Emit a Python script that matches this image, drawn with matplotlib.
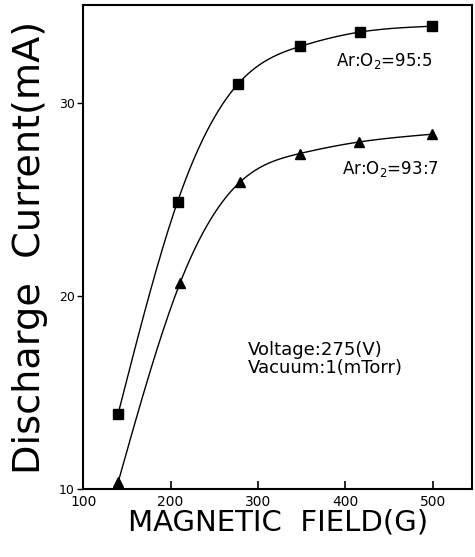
import numpy as np
import matplotlib
matplotlib.use("Agg")
import matplotlib.pyplot as plt

# Data
field_sq = [140, 208, 277, 348, 417, 499]
current_sq = [13.9, 24.9, 31.0, 32.95, 33.7, 34.0]
field_tri = [140, 211, 279, 348, 416, 499]
current_tri = [10.35, 20.7, 25.9, 27.4, 28.0, 28.4]
x_ticks = [100, 200, 300, 400, 500]
y_ticks = [10, 20, 30]
label_sq = "Ar:O$_2$=95:5"
label_tri = "Ar:O$_2$=93:7"
cond_text = "Voltage:275(V)\nVacuum:1(mTorr)"


def smooth(x, y, n=300):
    """Natural cubic spline through the points (for drawing the curve)."""
    x = np.asarray(x, float)
    y = np.asarray(y, float)
    k = len(x)
    h = np.diff(x)
    A = np.zeros((k, k))
    b = np.zeros(k)
    A[0, 0] = A[-1, -1] = 1
    for i in range(1, k - 1):
        A[i, i - 1] = h[i - 1]
        A[i, i] = 2 * (h[i - 1] + h[i])
        A[i, i + 1] = h[i]
        b[i] = 6 * ((y[i + 1] - y[i]) / h[i] - (y[i] - y[i - 1]) / h[i - 1])
    M = np.linalg.solve(A, b)
    xs, ys = [], []
    for i in range(k - 1):
        t = np.linspace(x[i], x[i + 1], n // (k - 1))
        a = x[i + 1] - t
        c = t - x[i]
        s = (M[i] * a**3 + M[i + 1] * c**3) / (6 * h[i]) \
            + (y[i] / h[i] - M[i] * h[i] / 6) * a \
            + (y[i + 1] / h[i] - M[i + 1] * h[i] / 6) * c
        xs.append(t)
        ys.append(s)
    return np.concatenate(xs), np.concatenate(ys)


plt.rcParams['font.family'] = ['DejaVu Sans']
plt.rcParams['mathtext.fontset'] = 'dejavusans'
fig = plt.figure(figsize=(4.75, 5.57), dpi=100)
ax = fig.add_axes([0.175, 0.122, 0.819, 0.869])

for xs_, ys_, mk, ms in [(field_sq, current_sq, 's', 7), (field_tri, current_tri, '^', 7.5)]:
    sx, sy = smooth(xs_, ys_)
    ax.plot(sx, sy, color='black', lw=1.0)
    ax.plot(xs_, ys_, linestyle='none', marker=mk, ms=ms, color='black')

ax.set_xlim(100, 545)
ax.set_ylim(10, 35.1)
ax.set_xticks(x_ticks)
ax.set_yticks(y_ticks)
ax.tick_params(axis='x', direction='in', length=6, width=1.2, labelsize=10, pad=4)
ax.tick_params(axis='y', direction='out', length=4, width=1.0, labelsize=9, pad=2)
for s in ax.spines.values():
    s.set_linewidth(1.5)

ax.text(389, 32.2, label_sq, fontsize=12, ha='left', va='center')
ax.text(396, 26.6, label_tri, fontsize=12, ha='left', va='center')
ax.text(289, 16.75, cond_text, fontsize=13, ha='left', va='center', linespacing=0.95)

ax.set_xlabel("MAGNETIC  FIELD(G)", fontsize=21, labelpad=0)
ax.set_ylabel("Discharge  Current(mA)", fontsize=27.5, labelpad=8)

fig.savefig("out.png", dpi=100)
